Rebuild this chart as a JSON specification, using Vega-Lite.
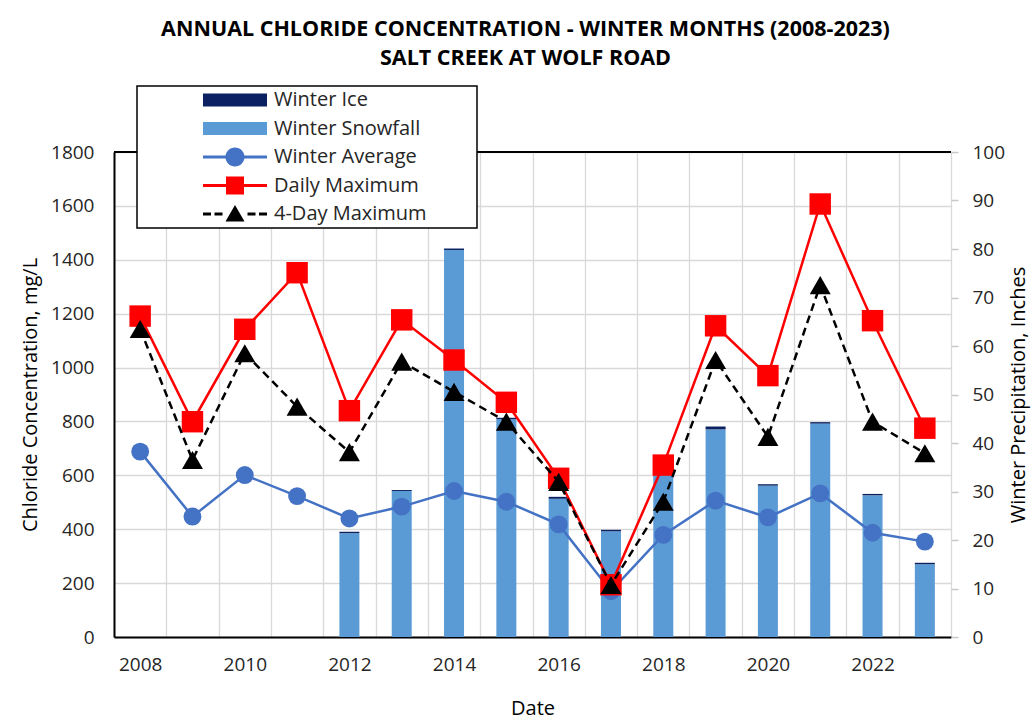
{
  "$schema": "https://vega.github.io/schema/vega-lite/v6.json",
  "autosize": {"type": "none"},
  "padding": {"left": 114, "top": 152, "right": 80, "bottom": 87},
  "width": 837,
  "height": 485,
  "background": "white",
  "config": {
    "font": "Open Sans",
    "view": {"stroke": null},
    "axis": {"labelFont": "Open Sans", "titleFont": "Open Sans", "labelColor": "#262626", "titleColor": "#000000", "labelFontSize": 19, "titleFontSize": 20, "titleFontWeight": "normal"}
  },
  "title": {
    "text": ["ANNUAL CHLORIDE CONCENTRATION - WINTER MONTHS (2008-2023)", "SALT CREEK AT WOLF ROAD"],
    "font": "Open Sans",
    "fontSize": 21.5,
    "fontWeight": "bold",
    "color": "#000000",
    "anchor": "middle",
    "lineHeight": 29,
    "offset": 16,
    "dx": -7
  },
  "datasets": {
    "chloride": [
      {"year": 2008, "winter_average": 688, "daily_max": 1191, "four_day_max": 1143},
      {"year": 2009, "winter_average": 447, "daily_max": 799, "four_day_max": 657},
      {"year": 2010, "winter_average": 601, "daily_max": 1142, "four_day_max": 1053},
      {"year": 2011, "winter_average": 523, "daily_max": 1352, "four_day_max": 855},
      {"year": 2012, "winter_average": 440, "daily_max": 840, "four_day_max": 686},
      {"year": 2013, "winter_average": 484, "daily_max": 1177, "four_day_max": 1022},
      {"year": 2014, "winter_average": 542, "daily_max": 1028, "four_day_max": 910},
      {"year": 2015, "winter_average": 502, "daily_max": 871, "four_day_max": 799},
      {"year": 2016, "winter_average": 418, "daily_max": 589, "four_day_max": 576},
      {"year": 2017, "winter_average": 170, "daily_max": 194, "four_day_max": 193},
      {"year": 2018, "winter_average": 379, "daily_max": 638, "four_day_max": 502},
      {"year": 2019, "winter_average": 506, "daily_max": 1155, "four_day_max": 1028},
      {"year": 2020, "winter_average": 444, "daily_max": 970, "four_day_max": 743},
      {"year": 2021, "winter_average": 533, "daily_max": 1607, "four_day_max": 1306},
      {"year": 2022, "winter_average": 387, "daily_max": 1174, "four_day_max": 799},
      {"year": 2023, "winter_average": 354, "daily_max": 775, "four_day_max": 682}
    ],
    "precip": [
      {"year": 2012, "type": "Winter Snowfall", "inches": 21.4},
      {"year": 2012, "type": "Winter Ice", "inches": 0.3},
      {"year": 2013, "type": "Winter Snowfall", "inches": 30.1},
      {"year": 2013, "type": "Winter Ice", "inches": 0.2},
      {"year": 2014, "type": "Winter Snowfall", "inches": 79.8},
      {"year": 2014, "type": "Winter Ice", "inches": 0.3},
      {"year": 2015, "type": "Winter Snowfall", "inches": 44.9},
      {"year": 2015, "type": "Winter Ice", "inches": 0.3},
      {"year": 2016, "type": "Winter Snowfall", "inches": 28.5},
      {"year": 2016, "type": "Winter Ice", "inches": 0.4},
      {"year": 2017, "type": "Winter Snowfall", "inches": 21.8},
      {"year": 2017, "type": "Winter Ice", "inches": 0.3},
      {"year": 2018, "type": "Winter Snowfall", "inches": 33.8},
      {"year": 2018, "type": "Winter Ice", "inches": 0.2},
      {"year": 2019, "type": "Winter Snowfall", "inches": 42.8},
      {"year": 2019, "type": "Winter Ice", "inches": 0.6},
      {"year": 2020, "type": "Winter Snowfall", "inches": 31.2},
      {"year": 2020, "type": "Winter Ice", "inches": 0.3},
      {"year": 2021, "type": "Winter Snowfall", "inches": 44.0},
      {"year": 2021, "type": "Winter Ice", "inches": 0.3},
      {"year": 2022, "type": "Winter Snowfall", "inches": 29.2},
      {"year": 2022, "type": "Winter Ice", "inches": 0.3},
      {"year": 2023, "type": "Winter Snowfall", "inches": 15.0},
      {"year": 2023, "type": "Winter Ice", "inches": 0.3}
    ]
  },
  "layer": [
    {
      "data": {"name": "precip"},
      "mark": {"type": "bar", "width": 20},
      "encoding": {
        "x": {
          "field": "year", "type": "ordinal",
          "scale": {"paddingInner": 0, "paddingOuter": 0},
          "axis": {
            "title": "Date", "titlePadding": 24,
            "labelAngle": 0, "labelPadding": 18,
            "labelExpr": "datum.value % 2 === 0 ? datum.label : ''",
            "ticks": false, "tickBand": "extent",
            "grid": true, "gridColor": "#D9D9D9", "gridWidth": 1.3,
            "domainColor": "#000000", "domainWidth": 2
          }
        },
        "y": {
          "field": "inches", "type": "quantitative", "stack": "zero",
          "scale": {"domain": [0, 100], "nice": false},
          "axis": {
            "orient": "right", "title": "Winter Precipitation, Inches",
            "titleAngle": -90, "titlePadding": 24,
            "values": [0, 10, 20, 30, 40, 50, 60, 70, 80, 90, 100],
            "grid": false, "domain": false,
            "tickColor": "#C8C8C8", "tickSize": 7, "tickWidth": 1.5, "labelPadding": 14
          }
        },
        "order": {"field": "type", "sort": "descending"},
        "color": {
          "field": "type", "type": "nominal",
          "scale": {
            "domain": ["Winter Ice", "Winter Snowfall", "Winter Average", "Daily Maximum", "4-Day Maximum"],
            "range": ["#0B2161", "#5B9BD5", "#4472C4", "#FF0000", "#000000"]
          },
          "legend": {
            "title": "\u00a0", "titleOrient": "right", "titlePadding": 46, "titleFontSize": 11,
            "orient": "none", "legendX": 23, "legendY": -66,
            "padding": 4, "rowPadding": 8.5, "symbolSize": 400, "symbolOffset": 84,
            "labelOffset": 29, "labelFont": "Open Sans", "labelFontSize": 20, "labelColor": "#262626",
            "labelLimit": 400,
            "strokeColor": "#000000", "fillColor": "#FFFFFF", "cornerRadius": 0,
            "symbolStrokeWidth": 0,
            "encode": {
              "legend": {"update": {"strokeWidth": {"value": 1.5}}},
              "symbols": {
                "update": {
                  "shape": {"signal": "datum.value === 'Winter Average' ? 'M-3.2,-0.15H3.2V0.15H-3.2Z M-0.95,0A0.95,0.95 0 1,1 0.95,0A0.95,0.95 0 1,1 -0.95,0Z' : datum.value === 'Daily Maximum' ? 'M-3.2,-0.15H3.2V0.15H-3.2Z M-0.9,-0.9H0.9V0.9H-0.9Z' : datum.value === '4-Day Maximum' ? 'M-3.2,-0.15H-2.4V0.15H-3.2Z M-2.05,-0.15H-1.25V0.15H-2.05Z M1.25,-0.15H2.05V0.15H1.25Z M2.4,-0.15H3.2V0.15H2.4Z M0,-0.9L0.95,0.75L-0.95,0.75Z' : 'M-3.2,-0.65H3.2V0.65H-3.2Z'"},
                  "fill": {"signal": "scale('color', datum.value)"},
                  "stroke": {"value": "transparent"},
                  "strokeWidth": {"value": 0},
                  "size": {"value": 400},
                  "opacity": {"value": 1}
                }
              }
            }
          }
        }
      }
    },
    {
      "data": {"name": "chloride"},
      "layer": [
        {
          "mark": {"type": "rule", "color": "#000000", "strokeWidth": 1.5},
          "encoding": {"y": {"datum": 1800, "type": "quantitative"}}
        },
        {
          "mark": {"type": "line", "strokeWidth": 2.5, "point": {"filled": true, "shape": "circle", "size": 320, "opacity": 1}},
          "encoding": {
            "x": {"field": "year", "type": "ordinal"},
            "y": {"field": "winter_average", "type": "quantitative"},
            "color": {"datum": "Winter Average", "type": "nominal"}
          }
        },
        {
          "mark": {"type": "line", "strokeWidth": 2.5, "point": {"filled": true, "shape": "square", "size": 460, "opacity": 1}},
          "encoding": {
            "x": {"field": "year", "type": "ordinal"},
            "y": {"field": "daily_max", "type": "quantitative"},
            "color": {"datum": "Daily Maximum", "type": "nominal"}
          }
        },
        {
          "mark": {"type": "line", "strokeWidth": 2.5, "strokeDash": [8, 5], "point": {"filled": true, "shape": "triangle-up", "size": 441, "opacity": 1}},
          "encoding": {
            "x": {"field": "year", "type": "ordinal"},
            "y": {"field": "four_day_max", "type": "quantitative"},
            "color": {"datum": "4-Day Maximum", "type": "nominal"}
          }
        }
      ],
      "encoding": {
        "y": {
          "type": "quantitative",
          "scale": {"domain": [0, 1800], "nice": false},
          "axis": {
            "title": "Chloride Concentration, mg/L", "titlePadding": 10,
            "values": [0, 200, 400, 600, 800, 1000, 1200, 1400, 1600, 1800],
            "format": "d",
            "grid": true, "gridColor": "#D9D9D9", "gridWidth": 1.3,
            "ticks": false, "labelPadding": 20,
            "domainColor": "#000000", "domainWidth": 2
          }
        }
      }
    }
  ],
  "resolve": {"scale": {"y": "independent"}}
}
